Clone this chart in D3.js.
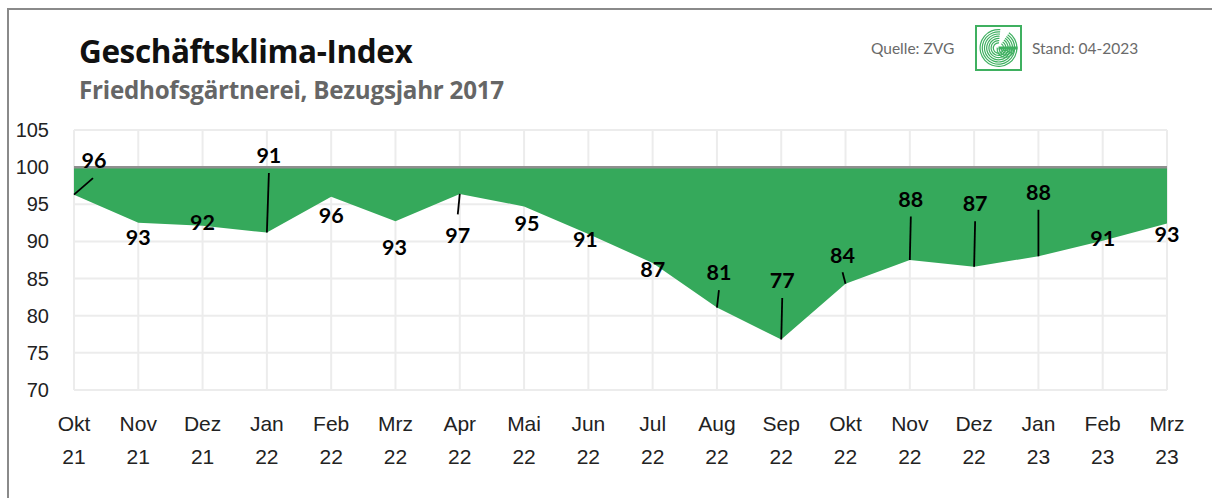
<!DOCTYPE html>
<html>
<head>
<meta charset="utf-8">
<script src="https://cdn.jsdelivr.net/npm/d3@7"></script>
<style>
  html, body { margin: 0; padding: 0; background: #fff; }
  svg { display: block; }
</style>
</head>
<body>
<svg id="chart" width="1212" height="498"></svg>
<script>
// ---- data ----
const months = ["Okt","Nov","Dez","Jan","Feb","Mrz","Apr","Mai","Jun","Jul","Aug","Sep","Okt","Nov","Dez","Jan","Feb","Mrz"];
const years  = ["21","21","21","22","22","22","22","22","22","22","22","22","22","22","22","23","23","23"];
const values = [96.3, 92.5, 92.1, 91.2, 96.0, 92.7, 96.4, 94.7, 91.0, 87.1, 81.1, 76.8, 84.3, 87.5, 86.6, 88.0, 90.1, 92.4];
const valueLabels = ["96","93","92","91","96","93","97","95","91","87","81","77","84","88","87","88","91","93"];
const yTicks = [70, 75, 80, 85, 90, 95, 100, 105];
const baseline = 100;

// ---- label layout (pixel offsets from the data point; leader: 1 = line below label, -1 = line above label) ----
const labelLayout = [
  {dx: 20, dy: -34, leader: 1}, {dx: 0, dy: 14, leader: 0}, {dx: 0, dy: -4, leader: 0},
  {dx: 2, dy: -77, leader: 1},  {dx: 0, dy: 18, leader: 0}, {dx: -1, dy: 26, leader: 0},
  {dx: -2, dy: 41, leader: -1}, {dx: 3, dy: 17, leader: 0}, {dx: -3, dy: 5, leader: 0},
  {dx: 0, dy: 6, leader: 0},    {dx: 2, dy: -35, leader: 1}, {dx: 1, dy: -59, leader: 1},
  {dx: -3, dy: -29, leader: 1}, {dx: 1, dy: -61, leader: 1}, {dx: 1, dy: -63, leader: 1},
  {dx: 0, dy: -64, leader: 1},  {dx: 0, dy: -2, leader: 0}, {dx: 0, dy: 11, leader: 0}
];

const svg = d3.select("#chart");
const W = 1212, H = 498;
const plot = {left: 74, right: 1167, top: 130, bottom: 390};

const idx = d3.range(values.length);
const x = d3.scalePoint().domain(idx).range([plot.left, plot.right]);
const y = d3.scaleLinear().domain([70, 105]).range([plot.bottom, plot.top]);

svg.append("rect").attr("width", W).attr("height", H).attr("fill", "#fff");
// frame
svg.append("path").attr("d", `M8,${H+10} L8,9 L${W+10},9`).attr("fill", "none")
  .attr("stroke", "#8a8a8a").attr("stroke-width", 2);

// title
svg.append("text").attr("x", 79).attr("y", 63)
  .attr("font-family", "'Open Sans', Lato, sans-serif").attr("font-weight", 700)
  .attr("font-size", 31.5).attr("letter-spacing", -0.4).attr("fill", "#111").text("Geschäftsklima-Index");
svg.append("text").attr("x", 79).attr("y", 99)
  .attr("font-family", "'Open Sans', Lato, sans-serif").attr("font-weight", 700)
  .attr("font-size", 24.2).attr("letter-spacing", -0.25).attr("fill", "#666").text("Friedhofsgärtnerei, Bezugsjahr 2017");

// source & date
svg.append("text").attr("x", 871).attr("y", 54)
  .attr("font-family", "Lato, sans-serif").attr("font-size", 15.5).attr("fill", "#6a6a6a").text("Quelle: ZVG");
svg.append("text").attr("x", 1032).attr("y", 54)
  .attr("font-family", "Lato, sans-serif").attr("font-size", 15.5).attr("fill", "#6a6a6a").text("Stand: 04-2023");

// logo
const logo = svg.append("g").attr("transform", "translate(976,26)");
const green = "#3fb060";
logo.append("rect").attr("x", 0).attr("y", 0).attr("width", 45).attr("height", 44)
  .attr("fill", "#fff").attr("stroke", green).attr("stroke-width", 2);
const lg = logo.append("g").attr("transform", "translate(22.5,22)");
const arcGen = d3.arc();
d3.range(7).forEach(k => {
  const r = 19 - k * 2.2;
  lg.append("path").attr("d", arcGen({innerRadius: r - 1.2, outerRadius: r, startAngle: 0.6, endAngle: 2 * Math.PI + 0.1}))
    .attr("fill", green);
});
d3.range(4).forEach(k => {
  const r = 9 - k * 2.2;
  lg.append("path").attr("d", arcGen({innerRadius: r - 1.2, outerRadius: r, startAngle: Math.PI * 0.5, endAngle: Math.PI * 1.55}))
    .attr("fill", green).attr("transform", "translate(7,1)");
});
lg.append("rect").attr("x", 0).attr("y", -1.5).attr("width", 19).attr("height", 3).attr("fill", green);

// grid
const grid = svg.append("g").attr("stroke", "#ececec").attr("stroke-width", 2);
grid.selectAll("line.h").data(yTicks).join("line")
  .attr("x1", plot.left).attr("x2", plot.right)
  .attr("y1", d => y(d)).attr("y2", d => y(d));
grid.selectAll("line.v").data(idx).join("line")
  .attr("x1", d => x(d)).attr("x2", d => x(d))
  .attr("y1", plot.top).attr("y2", plot.bottom);

// y axis labels
svg.append("g").selectAll("text").data(yTicks).join("text")
  .attr("x", 49).attr("y", d => y(d)).attr("dy", "0.35em")
  .attr("text-anchor", "end").attr("font-family", "'Liberation Sans', Arial, sans-serif")
  .attr("font-size", 20).attr("fill", "#222").text(d => d);

// x axis labels
const xl = svg.append("g").selectAll("text").data(idx).join("text")
  .attr("text-anchor", "middle").attr("font-family", "'Liberation Sans', Arial, sans-serif")
  .attr("font-size", 21).attr("fill", "#222");
xl.append("tspan").attr("x", d => x(d)).attr("y", 431).text(d => months[d]);
xl.append("tspan").attr("x", d => x(d)).attr("y", 464).text(d => years[d]);

// area
const area = d3.area().x(d => x(d)).y0(y(baseline)).y1(d => y(values[d]));
svg.append("path").datum(idx).attr("d", area).attr("fill", "#35a95b");

// baseline
svg.append("line").attr("x1", plot.left).attr("x2", plot.right)
  .attr("y1", y(baseline)).attr("y2", y(baseline))
  .attr("stroke", "#8f8f8f").attr("stroke-width", 2.5);

// leaders & labels
const lab = svg.append("g");
idx.forEach(i => {
  const px = x(i), py = y(values[i]);
  const L = labelLayout[i];
  const lx = px + L.dx, ly = py + L.dy;
  if (L.leader !== 0) {
    const ey = L.leader > 0 ? ly + 17.5 : ly - 20.5;
    lab.append("line").attr("x1", px).attr("y1", py).attr("x2", lx - (i === 0 ? 1 : 0)).attr("y2", ey)
      .attr("stroke", "#000").attr("stroke-width", 1.8);
  }
  lab.append("text").attr("x", lx).attr("y", ly).attr("dy", "0.36em")
    .attr("text-anchor", "middle").attr("font-family", "Lato, 'Open Sans', sans-serif")
    .attr("font-weight", 700).attr("font-size", 21.5).attr("fill", "#000").text(valueLabels[i]);
});
</script>
</body>
</html>
